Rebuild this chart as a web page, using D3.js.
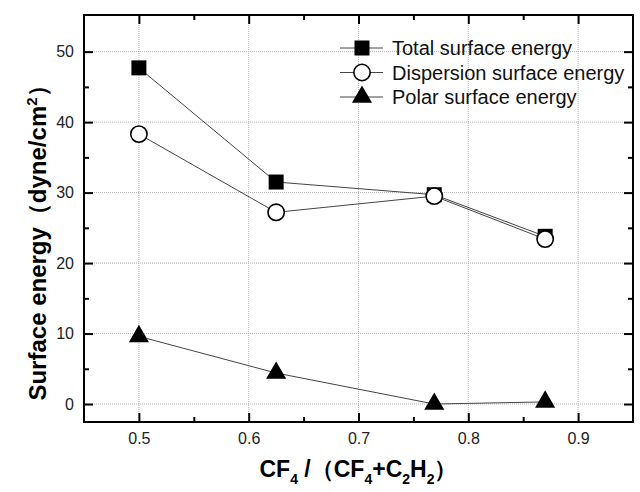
<!DOCTYPE html>
<html>
<head>
    <title>Surface energy</title>
    <script src="https://d3js.org/d3.v7.min.js"></script>
</head>

<style>
    body{
        margin:0;
        background-color: #ffffff;
        font-family: Arial, 'Liberation Sans', sans-serif;
    }
    .grid line{
        stroke: #b4b4b4;
        stroke-width: 1;
        stroke-dasharray: 1,1;
    }
</style>

<body>
    <div id="chart"></div>
</body>

<script>

    // data
    var ratios = [0.5, 0.625, 0.769, 0.87];
    var totalEnergy = [47.7, 31.5, 29.7, 23.8];
    var dispersionEnergy = [38.3, 27.2, 29.5, 23.4];
    var polarEnergy = [9.6, 4.4, 0.0, 0.3];
    var seriesNames = ["Total surface energy", "Dispersion surface energy", "Polar surface energy"];
    var xTicks = [0.5, 0.6, 0.7, 0.8, 0.9];
    var xMinor = [0.55, 0.65, 0.75, 0.85];
    var yTicks = [0, 10, 20, 30, 40, 50];
    var yMinor = [5, 15, 25, 35, 45];

    var width = 640, height = 492;
    var margin = {top: 15, right: 7, bottom: 70, left: 84};
    var w = width - margin.left - margin.right,
        h = height - margin.top - margin.bottom;

    var xScale = d3.scaleLinear().domain([0.45, 0.95]).range([0, w]);
    var yScale = d3.scaleLinear().domain([-2.55, 55.2]).range([h, 0]);

    var svg = d3.select("#chart").append("svg")
        .attr("width", width)
        .attr("height", height)
        .append("g")
        .attr("transform", "translate(" + margin.left + "," + margin.top + ")");

    // dotted grid
    svg.append("g").attr("class", "grid")
        .selectAll("line").data(xTicks).enter().append("line")
        .attr("x1", function(d) { return xScale(d); })
        .attr("x2", function(d) { return xScale(d); })
        .attr("y1", 0).attr("y2", h);
    svg.append("g").attr("class", "grid")
        .selectAll("line").data(yTicks).enter().append("line")
        .attr("y1", function(d) { return yScale(d); })
        .attr("y2", function(d) { return yScale(d); })
        .attr("x1", 0).attr("x2", w);

    // axes on all four sides, ticks pointing in
    function styleAxis(g) {
        g.select(".domain").remove();
        g.selectAll(".tick line").attr("stroke", "#000").attr("stroke-width", 2);
        g.selectAll(".tick text").attr("fill", "#222").style("font-size", "16px")
            .style("font-family", "Arial, 'Liberation Sans', sans-serif");
    }
    var fmt = function(d) { return d; };

    svg.append("g").attr("transform", "translate(0," + h + ")")
        .call(d3.axisBottom(xScale).tickValues(xTicks).tickFormat(fmt).tickSizeInner(-9).tickSizeOuter(0).tickPadding(11))
        .call(styleAxis);
    svg.append("g").attr("transform", "translate(0," + h + ")")
        .call(d3.axisBottom(xScale).tickValues(xMinor).tickFormat("").tickSizeInner(-5).tickSizeOuter(0))
        .call(styleAxis);
    svg.append("g")
        .call(d3.axisTop(xScale).tickValues(xTicks).tickFormat("").tickSizeInner(-9).tickSizeOuter(0))
        .call(styleAxis);
    svg.append("g")
        .call(d3.axisTop(xScale).tickValues(xMinor).tickFormat("").tickSizeInner(-5).tickSizeOuter(0))
        .call(styleAxis);
    svg.append("g")
        .call(d3.axisLeft(yScale).tickValues(yTicks).tickFormat(fmt).tickSizeInner(-9).tickSizeOuter(0).tickPadding(10))
        .call(styleAxis);
    svg.append("g")
        .call(d3.axisLeft(yScale).tickValues(yMinor).tickFormat("").tickSizeInner(-5).tickSizeOuter(0))
        .call(styleAxis);
    svg.append("g").attr("transform", "translate(" + w + ",0)")
        .call(d3.axisRight(yScale).tickValues(yTicks).tickFormat("").tickSizeInner(-9).tickSizeOuter(0))
        .call(styleAxis);
    svg.append("g").attr("transform", "translate(" + w + ",0)")
        .call(d3.axisRight(yScale).tickValues(yMinor).tickFormat("").tickSizeInner(-5).tickSizeOuter(0))
        .call(styleAxis);

    // frame
    svg.append("rect")
        .attr("width", w).attr("height", h)
        .attr("fill", "none").attr("stroke", "#000").attr("stroke-width", 2);

    var symbols = [d3.symbolSquare, d3.symbolCircle, d3.symbolTriangle];
    var sizes = [225, 210, 175];
    var fills = ["#000", "#fff", "#000"];
    var series = [totalEnergy, dispersionEnergy, polarEnergy];

    var line = d3.line()
        .x(function(d) { return xScale(d[0]); })
        .y(function(d) { return yScale(d[1]); });

    // connecting lines
    series.forEach(function(vals) {
        svg.append("path")
            .datum(d3.zip(ratios, vals))
            .attr("d", line)
            .attr("fill", "none")
            .attr("stroke", "#444")
            .attr("stroke-width", 1);
    });

    // markers
    series.forEach(function(vals, i) {
        svg.selectAll(".m" + i)
            .data(d3.zip(ratios, vals))
            .enter().append("path")
            .attr("class", "m" + i)
            .attr("transform", function(d) { return "translate(" + xScale(d[0]) + "," + yScale(d[1]) + ")"; })
            .attr("d", d3.symbol().type(symbols[i]).size(sizes[i]))
            .attr("fill", fills[i])
            .attr("stroke", "#000")
            .attr("stroke-width", i == 1 ? 1.6 : 0);
    });

    // legend
    var legend = svg.selectAll(".legend")
        .data(seriesNames)
        .enter().append("g")
        .attr("class", "legend")
        .attr("transform", function(d, i) { return "translate(" + (340 - margin.left) + "," + (48 - margin.top + i * 24.5) + ")"; });

    legend.append("line")
        .attr("x1", 0).attr("x2", 43)
        .attr("stroke", "#444").attr("stroke-width", 1);
    legend.append("path")
        .attr("transform", "translate(22,0)")
        .attr("d", function(d, i) { return d3.symbol().type(symbols[i]).size(sizes[i])(); })
        .attr("fill", function(d, i) { return fills[i]; })
        .attr("stroke", "#000")
        .attr("stroke-width", function(d, i) { return i == 1 ? 1.6 : 0; });
    legend.append("text")
        .attr("x", 52)
        .attr("dy", "0.36em")
        .style("font-size", "20px")
        .attr("fill", "#111")
        .text(function(d) { return d; });

    // axis titles
    var xt = svg.append("text")
        .attr("x", w / 2)
        .attr("y", h + 55)
        .attr("text-anchor", "middle")
        .style("font-size", "23px")
        .style("font-weight", "bold");
    xt.append("tspan").text("CF");
    xt.append("tspan").attr("dy", 7).style("font-size", "14px").text("4");
    xt.append("tspan").attr("dy", -7).text(" /（CF");
    xt.append("tspan").attr("dy", 7).style("font-size", "14px").text("4");
    xt.append("tspan").attr("dy", -7).text("+C");
    xt.append("tspan").attr("dy", 7).style("font-size", "14px").text("2");
    xt.append("tspan").attr("dy", -7).text("H");
    xt.append("tspan").attr("dy", 7).style("font-size", "14px").text("2");
    xt.append("tspan").attr("dy", -7).text("）");

    var yt = svg.append("text")
        .attr("transform", "translate(" + (46 - margin.left) + "," + (237 - margin.top) + ") rotate(-90)")
        .attr("text-anchor", "middle")
        .style("font-size", "24px")
        .style("font-weight", "bold");
    yt.append("tspan").text("Surface energy（dyne/cm");
    yt.append("tspan").attr("dy", -9).style("font-size", "15px").text("2");
    yt.append("tspan").attr("dy", 9).text("）");

</script>

</html>
